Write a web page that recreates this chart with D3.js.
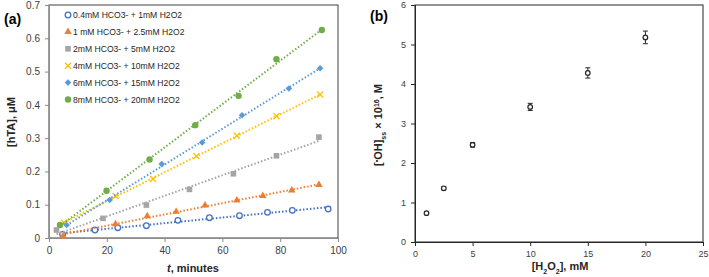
<!DOCTYPE html>
<html>
<head>
<meta charset="utf-8">
<script src="https://cdn.jsdelivr.net/npm/d3@7"></script>
<style>
body { margin: 0; background: #fff; }
text { font-family: "Liberation Sans", Arial, sans-serif; }
</style>
</head>
<body>
<div id="chart"></div>
<script>
// panel (a) data: time (min) vs [hTA] (uM)
var seriesNames = ["0.4mM HCO3- + 1mM H2O2", "1 mM HCO3- + 2.5mM H2O2", "2mM HCO3- + 5mM H2O2",
    "4mM HCO3- + 10mM H2O2", "6mM HCO3- + 15mM H2O2", "8mM HCO3- + 20mM H2O2"];
var seriesColors = ["#4472C4", "#ED7D31", "#A5A5A5", "#FFC000", "#5B9BD5", "#70AD47"];
var seriesSymbols = ["circleOpen", "triangle", "square", "cross", "diamond", "circle"];

var t1 = [4.7, 15.9, 23.8, 33.7, 44.6, 55.5, 65.9, 75.6, 84.2, 96.6];
var y1 = [0.011, 0.024, 0.031, 0.037, 0.053, 0.061, 0.067, 0.077, 0.083, 0.087];
var t2 = [4.9, 23, 34, 44, 54, 65, 74, 84, 93.4];
var y2 = [0.006, 0.042, 0.066, 0.079, 0.098, 0.113, 0.127, 0.143, 0.160];
var t3 = [2.6, 18.7, 33.7, 48.6, 63.8, 78.7, 93.4];
var y3 = [0.024, 0.059, 0.099, 0.146, 0.193, 0.247, 0.303];
var t4 = [5.2, 23, 36, 51, 65, 78.7, 93.8];
var y4 = [0.046, 0.126, 0.177, 0.246, 0.307, 0.366, 0.431];
var t5 = [6.1, 21, 39, 53, 66.8, 83, 93.8];
var y5 = [0.039, 0.114, 0.222, 0.287, 0.369, 0.449, 0.510];
var t6 = [3.8, 19.9, 34.8, 50.6, 65.6, 78.7, 94.4];
var y6 = [0.039, 0.142, 0.236, 0.339, 0.427, 0.537, 0.625];

var ticksAx = [0, 20, 40, 60, 80, 100];
var ticksAy = [0, 0.1, 0.2, 0.3, 0.4, 0.5, 0.6, 0.7];

// panel (b) data: [H2O2] (mM) vs [OH]ss x 1e16 (M)
var h2o2 = [1, 2.5, 5, 10, 15, 20];
var ohss = [0.73, 1.36, 2.46, 3.42, 4.28, 5.18];
var ohErr = [0.03, 0.04, 0.06, 0.09, 0.13, 0.16];
var ticksBx = [0, 5, 10, 15, 20, 25];
var ticksBy = [0, 1, 2, 3, 4, 5, 6];

var svg = d3.select("#chart").append("svg").attr("width", 709).attr("height", 277);

// ---------- panel (a) ----------
var xA = d3.scaleLinear().domain([0, 100]).range([49, 338]);
var yA = d3.scaleLinear().domain([0, 0.7]).range([238, 5]);

var gA = svg.append("g");
gA.append("rect").attr("x", 49).attr("y", 5).attr("width", 289).attr("height", 233)
    .attr("fill", "none").attr("stroke", "#404040").attr("stroke-width", 1);

var axA = gA.append("g").attr("transform", "translate(0,238)")
    .call(d3.axisBottom(xA).tickValues(ticksAx).tickSize(4).tickPadding(5).tickFormat(d3.format("d")));
var ayA = gA.append("g").attr("transform", "translate(49,0)")
    .call(d3.axisLeft(yA).tickValues(ticksAy).tickSize(4).tickPadding(5).tickFormat(d => d == 0 ? "0" : d3.format(".1f")(d)));
[axA, ayA].forEach(function(a) {
    a.select(".domain").attr("stroke", "#8c8c8c");
    a.selectAll(".tick line").attr("stroke", "#8c8c8c");
    a.selectAll("text").attr("fill", "#404040").style("font-size", "10px");
});

var tList = [t1, t2, t3, t4, t5, t6];
var yList = [y1, y2, y3, y4, y5, y6];

function fit(xs, ys) {
    var mx = d3.mean(xs), my = d3.mean(ys);
    var num = d3.sum(xs, (x, i) => (x - mx) * (ys[i] - my));
    var den = d3.sum(xs, x => (x - mx) * (x - mx));
    var b = num / den;
    return [b, my - b * mx];
}

function drawSymbol(g, type, color, x, y) {
    if (type == "circleOpen") {
        g.append("circle").attr("cx", x).attr("cy", y).attr("r", 2.8).attr("fill", "#fff").attr("stroke", color).attr("stroke-width", 1.3);
    } else if (type == "circle") {
        g.append("circle").attr("cx", x).attr("cy", y).attr("r", 3.2).attr("fill", color);
    } else if (type == "triangle") {
        g.append("path").attr("d", d3.symbol().type(d3.symbolTriangle).size(24)()).attr("transform", `translate(${x},${y})`).attr("fill", color);
    } else if (type == "square") {
        g.append("rect").attr("x", x - 2.8).attr("y", y - 2.8).attr("width", 5.6).attr("height", 5.6).attr("fill", color);
    } else if (type == "diamond") {
        g.append("path").attr("d", `M${x},${y-3.3}L${x+3.3},${y}L${x},${y+3.3}L${x-3.3},${y}Z`).attr("fill", color);
    } else if (type == "cross") {
        g.append("path").attr("d", `M${x-3},${y-3}L${x+3},${y+3}M${x-3},${y+3}L${x+3},${y-3}`).attr("stroke", color).attr("stroke-width", 1.3);
    }
}

tList.forEach(function(ts, k) {
    var ys = yList[k];
    var f = fit(ts, ys);
    var x0 = d3.min(ts), x1 = d3.max(ts);
    gA.append("line")
        .attr("x1", xA(x0)).attr("y1", yA(f[0] * x0 + f[1]))
        .attr("x2", xA(x1)).attr("y2", yA(f[0] * x1 + f[1]))
        .attr("stroke", seriesColors[k]).attr("stroke-width", 2)
        .attr("stroke-dasharray", "1.5,2");
    var gp = gA.append("g");
    ts.forEach(function(t, i) {
        drawSymbol(gp, seriesSymbols[k], seriesColors[k], xA(t), yA(ys[i]));
    });
});

// legend
var leg = gA.append("g");
seriesNames.forEach(function(name, k) {
    var ly = 15 + k * 16.9;
    drawSymbol(leg, seriesSymbols[k], seriesColors[k], 68, ly);
    leg.append("text").attr("x", 73).attr("y", ly + 3).text(name)
        .style("font-size", "8.6px").attr("fill", "#262626");
});

gA.append("text").attr("x", 4).attr("y", 24).text("(a)").style("font-size", "14px").style("font-weight", "bold");
gA.append("text").attr("transform", "translate(15,122) rotate(-90)").attr("text-anchor", "middle")
    .style("font-size", "11px").style("font-weight", "bold").attr("fill", "#262626").text("[hTA], μM");
var xt = gA.append("text").attr("x", 193).attr("y", 272).attr("text-anchor", "middle")
    .style("font-size", "11px").style("font-weight", "bold").attr("fill", "#262626");
xt.append("tspan").style("font-style", "italic").text("t");
xt.append("tspan").text(", minutes");

// ---------- panel (b) ----------
var xB = d3.scaleLinear().domain([0, 25]).range([415, 703]);
var yB = d3.scaleLinear().domain([0, 6]).range([242, 5]);

var gB = svg.append("g");
gB.append("rect").attr("x", 415).attr("y", 5).attr("width", 288).attr("height", 237)
    .attr("fill", "none").attr("stroke", "#262626").attr("stroke-width", 1);
var axB = gB.append("g").attr("transform", "translate(0,242)")
    .call(d3.axisBottom(xB).tickValues(ticksBx).tickSize(4).tickPadding(5).tickFormat(d3.format("d")));
var ayB = gB.append("g").attr("transform", "translate(415,0)")
    .call(d3.axisLeft(yB).tickValues(ticksBy).tickSize(4).tickPadding(5).tickFormat(d3.format("d")));
[axB, ayB].forEach(function(a) {
    a.select(".domain").attr("stroke", "#262626");
    a.selectAll(".tick line").attr("stroke", "#262626");
    a.selectAll("text").attr("fill", "#404040").style("font-size", "9px");
});

var pts = gB.append("g");
h2o2.forEach(function(h, i) {
    var cx = xB(h), top = yB(ohss[i] + ohErr[i]), bot = yB(ohss[i] - ohErr[i]);
    pts.append("line").attr("x1", cx).attr("x2", cx).attr("y1", top).attr("y2", bot).attr("stroke", "#262626");
    pts.append("line").attr("x1", cx - 2.5).attr("x2", cx + 2.5).attr("y1", top).attr("y2", top).attr("stroke", "#262626");
    pts.append("line").attr("x1", cx - 2.5).attr("x2", cx + 2.5).attr("y1", bot).attr("y2", bot).attr("stroke", "#262626");
    pts.append("circle").attr("cx", cx).attr("cy", yB(ohss[i])).attr("r", 2.3)
        .attr("fill", "#fff").attr("stroke", "#262626").attr("stroke-width", 1.2);
});

gB.append("text").attr("x", 370).attr("y", 21).text("(b)").style("font-size", "14px").style("font-weight", "bold");

var yt = gB.append("text").attr("transform", "translate(382,125) rotate(-90)").attr("text-anchor", "middle")
    .style("font-size", "11px").style("font-weight", "bold").attr("fill", "#262626");
yt.append("tspan").text("[");
yt.append("tspan").attr("baseline-shift", "super").style("font-size", "7px").text("•");
yt.append("tspan").text("OH]");
yt.append("tspan").attr("baseline-shift", "sub").style("font-size", "7px").text("ss");
yt.append("tspan").text(" × 10");
yt.append("tspan").attr("baseline-shift", "super").style("font-size", "7px").text("16");
yt.append("tspan").text(", M");

var xtb = gB.append("text").attr("x", 560).attr("y", 270).attr("text-anchor", "middle")
    .style("font-size", "11px").style("font-weight", "bold").attr("fill", "#262626");
xtb.append("tspan").text("[H");
xtb.append("tspan").attr("baseline-shift", "sub").style("font-size", "7px").text("2");
xtb.append("tspan").text("O");
xtb.append("tspan").attr("baseline-shift", "sub").style("font-size", "7px").text("2");
xtb.append("tspan").text("], mM");
</script>
</body>
</html>
